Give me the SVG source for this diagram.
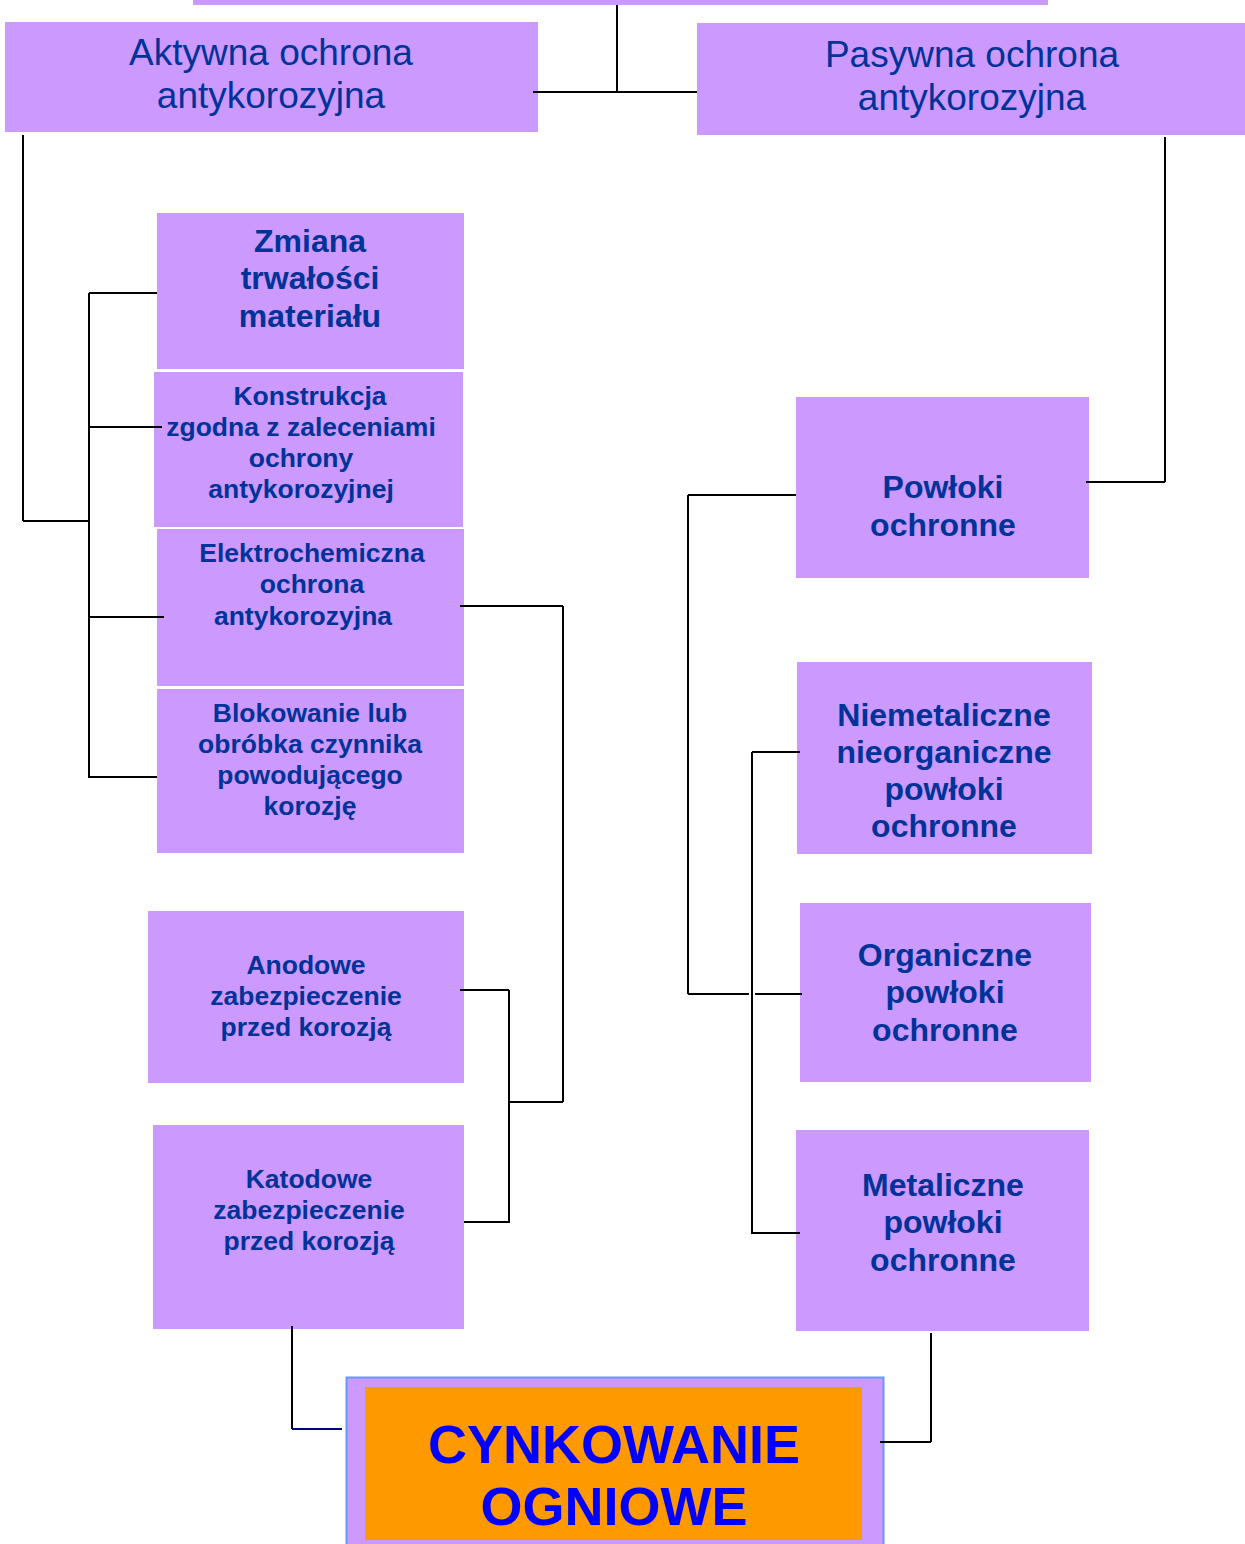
<svg xmlns="http://www.w3.org/2000/svg" width="1245" height="1544" viewBox="0 0 1245 1544">
<style>
.box{fill:#cc99ff;}
.t{font-family:"Liberation Sans",Arial,sans-serif;fill:#003399;text-anchor:middle;}
.h{font-size:37px;}
.b{font-size:32px;font-weight:bold;}
.s{font-size:26.5px;font-weight:bold;}
.c line{stroke:#000;stroke-width:2;}
.big{font-family:"Liberation Sans",Arial,sans-serif;font-size:54px;font-weight:bold;fill:#0000ff;text-anchor:middle;}
</style>
<rect width="1245" height="1544" fill="#fff"/>
<g id="top"><rect class="box" x="193" y="0" width="855" height="5"/></g>
<g id="aktywna"><rect class="box" x="5" y="22" width="533" height="110"/>
<text class="t h" x="271" y="65">Aktywna ochrona</text><text class="t h" x="271" y="108">antykorozyjna</text></g>
<g id="pasywna"><rect class="box" x="697" y="23" width="548" height="112"/>
<text class="t h" x="972" y="67">Pasywna ochrona</text><text class="t h" x="972" y="110">antykorozyjna</text></g>
<g id="zmiana"><rect class="box" x="157" y="213" width="307" height="156"/>
<text class="t b" x="310" y="252">Zmiana</text><text class="t b" x="310" y="289">trwałości</text><text class="t b" x="310" y="327">materiału</text></g>
<g id="konstrukcja"><rect class="box" x="154" y="372" width="309" height="155"/>
<text class="t s" x="310" y="405">Konstrukcja</text><text class="t s" x="301" y="436">zgodna z zaleceniami</text><text class="t s" x="301" y="467">ochrony</text><text class="t s" x="301" y="498">antykorozyjnej</text></g>
<g id="elektro"><rect class="box" x="157" y="529" width="307" height="157"/>
<text class="t s" x="312" y="562">Elektrochemiczna</text><text class="t s" x="312" y="593">ochrona</text><text class="t s" x="303" y="625">antykorozyjna</text></g>
<g id="blokowanie"><rect class="box" x="157" y="689" width="307" height="164"/>
<text class="t s" x="310" y="722">Blokowanie lub</text><text class="t s" x="310" y="753">obróbka czynnika</text><text class="t s" x="310" y="784">powodującego</text><text class="t s" x="310" y="815">korozję</text></g>
<g id="anodowe"><rect class="box" x="148" y="911" width="316" height="172"/>
<text class="t s" x="306" y="974">Anodowe</text><text class="t s" x="306" y="1005">zabezpieczenie</text><text class="t s" x="306" y="1036">przed korozją</text></g>
<g id="katodowe"><rect class="box" x="153" y="1125" width="311" height="204"/>
<text class="t s" x="309" y="1188">Katodowe</text><text class="t s" x="309" y="1219">zabezpieczenie</text><text class="t s" x="309" y="1250">przed korozją</text></g>
<g id="powloki"><rect class="box" x="796" y="397" width="293" height="181"/>
<text class="t b" x="943" y="498">Powłoki</text><text class="t b" x="943" y="536">ochronne</text></g>
<g id="niemetaliczne"><rect class="box" x="797" y="662" width="295" height="192"/>
<text class="t b" x="944" y="726">Niemetaliczne</text><text class="t b" x="944" y="763">nieorganiczne</text><text class="t b" x="944" y="800">powłoki</text><text class="t b" x="944" y="837">ochronne</text></g>
<g id="organiczne"><rect class="box" x="800" y="903" width="291" height="179"/>
<text class="t b" x="945" y="966">Organiczne</text><text class="t b" x="945" y="1003">powłoki</text><text class="t b" x="945" y="1041">ochronne</text></g>
<g id="metaliczne"><rect class="box" x="796" y="1130" width="293" height="201"/>
<text class="t b" x="943" y="1196">Metaliczne</text><text class="t b" x="943" y="1233">powłoki</text><text class="t b" x="943" y="1271">ochronne</text></g>
<g id="cynkowanie"><rect x="346.5" y="1377.5" width="537" height="170" fill="#cc99ff" stroke="#6699ff" stroke-width="2"/>
<rect x="365" y="1387" width="497" height="153" fill="#ff9900"/>
<text class="big" x="614" y="1463">CYNKOWANIE</text><text class="big" x="614" y="1525">OGNIOWE</text></g>
<g id="connectors" class="c">
<line x1="617" y1="5" x2="617" y2="92"/>
<line x1="533" y1="92" x2="697" y2="92"/>
<line x1="23" y1="135" x2="23" y2="521"/>
<line x1="23" y1="521" x2="89" y2="521"/>
<line x1="89" y1="293" x2="89" y2="778"/>
<line x1="89" y1="293" x2="157" y2="293"/>
<line x1="89" y1="427" x2="162" y2="427"/>
<line x1="89" y1="617" x2="164" y2="617"/>
<line x1="89" y1="777" x2="157" y2="777"/>
<line x1="460" y1="606" x2="563" y2="606"/>
<line x1="563" y1="606" x2="563" y2="1102"/>
<line x1="509" y1="1102" x2="563" y2="1102"/>
<line x1="509" y1="990" x2="509" y2="1223"/>
<line x1="460" y1="990" x2="509" y2="990"/>
<line x1="464" y1="1222" x2="509" y2="1222"/>
<line x1="292" y1="1326" x2="292" y2="1429"/>
<line x1="292" y1="1429" x2="342" y2="1429" style="stroke:#000080"/>
<line x1="1165" y1="137" x2="1165" y2="482"/>
<line x1="1086" y1="482" x2="1165" y2="482"/>
<line x1="688" y1="495" x2="688" y2="994"/>
<line x1="688" y1="495" x2="796" y2="495"/>
<line x1="688" y1="994" x2="749" y2="994"/>
<line x1="755" y1="994" x2="802" y2="994"/>
<line x1="752" y1="752" x2="752" y2="1234"/>
<line x1="752" y1="752" x2="800" y2="752"/>
<line x1="752" y1="1233" x2="800" y2="1233"/>
<line x1="931" y1="1333" x2="931" y2="1442"/>
<line x1="880" y1="1442" x2="931" y2="1442"/>
</g>
</svg>
